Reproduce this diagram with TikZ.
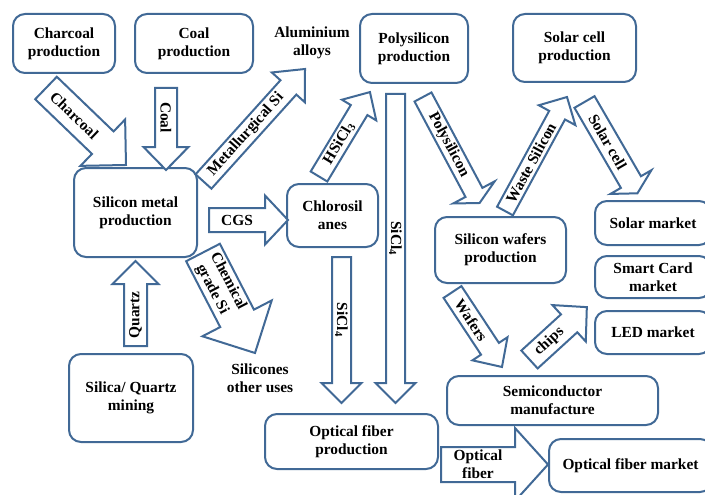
\documentclass[tikz,border=0pt]{standalone}
\usepackage{fontspec}
\setmainfont{Liberation Serif}
\usetikzlibrary{calc}
\definecolor{edgeblue}{RGB}{65,105,150}
\newcommand\labelfont{\fontsize{15.4}{18}\selectfont\bfseries}
\tikzset{
  box/.style={draw=edgeblue, line width=2pt, rounded corners=12pt, fill=white,
    align=center, inner sep=0pt, font=\labelfont},
  arrowline/.style={draw=edgeblue, line width=2pt, fill=white, line join=miter},
  arrowtext/.style={font=\labelfont, inner sep=0pt, align=center},
  plain/.style={font=\labelfont, align=center, inner sep=0pt},
}
% Block arrow from tail coordinate #1 to tip coordinate #2:
% #3 shaft half width, #4 head half width, #5 head length, #6 label
\newcommand\blockarrow[6]{%
  \pgfpointdiff{\pgfpointanchor{#1}{center}}{\pgfpointanchor{#2}{center}}%
  \pgfgetlastxy{\bax}{\bay}%
  \pgfmathsetmacro\baang{atan2(\bay,\bax)}%
  \pgfmathsetmacro\balen{veclen(\bax,\bay)}%
  \begin{scope}[shift={(#1)}, rotate=\baang, x=1pt, y=1pt]
    \draw[arrowline] (0,#3) -- ({\balen-#5},#3) -- ({\balen-#5},#4) -- (\balen,0)
      -- ({\balen-#5},-#4) -- ({\balen-#5},-#3) -- (0,-#3) -- cycle;
    \node[arrowtext, rotate=\baang] (#1-label) at ({(\balen-#5)/2},0) {#6};
  \end{scope}}

\begin{document}
\begin{tikzpicture}[x=1pt, y=-1pt]
\fill[white] (0,0) rectangle (705,495);
\useasboundingbox (0,0) rectangle (705,495);

% process boxes
\node[box, minimum width=102pt, minimum height=59pt] (charcoal) at (64,43.5) {Charcoal\\production};
\node[box, minimum width=118pt, minimum height=59pt] (coal) at (194,43.5) {Coal\\production};
\node[box, minimum width=108pt, minimum height=69pt] (poly) at (414,48.5) {Polysilicon\\production};
\node[box, minimum width=123pt, minimum height=68pt] (solarcell) at (574.5,48) {Solar cell\\production};
\node[box, minimum width=123pt, minimum height=89pt] (simetal) at (135.5,212.5) {Silicon metal\\production};
\node[box, minimum width=124pt, minimum height=88pt] (silica) at (131,398) {Silica/ Quartz\\mining};
\node[box, minimum width=91pt, minimum height=63pt] (chloro) at (332.5,215.5) {Chlorosil\\anes};
\node[box, minimum width=173pt, minimum height=55pt] (ofprod) at (351.5,441.5) {Optical fiber\\production};
\node[box, minimum width=131pt, minimum height=66pt] (wafers) at (500.5,250) {Silicon wafers\\production};
\node[box, minimum width=116pt, minimum height=44pt] (solarmkt) at (653,223) {Solar market};
\node[box, minimum width=116pt, minimum height=42pt] (smartmkt) at (653,277) {Smart Card\\market};
\node[box, minimum width=116pt, minimum height=43pt] (ledmkt) at (653,332.5) {LED market};
\node[box, minimum width=211pt, minimum height=49pt] (semi) at (552.5,400.5) {Semiconductor\\manufacture};
\node[box, minimum width=163pt, minimum height=53pt] (ofmkt) at (630.5,465.5) {Optical fiber market};

% free-standing outputs
\node[plain] (alu) at (312,43) {Aluminium\\alloys};
\node[plain] (silicones) at (260,378) {Silicones\\other uses};

% arrow end points
\coordinate (aChar) at (46,88);      \coordinate (aCharTip) at (126,165);
\coordinate (aCoal) at (166,88);     \coordinate (aCoalTip) at (166,170);
\coordinate (aMet) at (203.5,181.5); \coordinate (aMetTip) at (305,69);
\coordinate (aHsi) at (319,176.5);   \coordinate (aHsiTip) at (370,92);
\coordinate (aTet) at (395.5,94);    \coordinate (aTetTip) at (395.5,403);
\coordinate (aPoly) at (423,97);     \coordinate (aPolyTip) at (479.6,203);
\coordinate (aWaste) at (505,211);   \coordinate (aWasteTip) at (567,97);
\coordinate (aCell) at (584.5,102);  \coordinate (aCellTip) at (637.5,193.4);
\coordinate (aCgs) at (209,220);     \coordinate (aCgsTip) at (288,220);
\coordinate (aQtz) at (135.5,346);   \coordinate (aQtzTip) at (135.5,261);
\coordinate (aChem) at (203,252.5);  \coordinate (aChemTip) at (255,353);
\coordinate (aTetB) at (341.5,257);  \coordinate (aTetBTip) at (341.5,403);
\coordinate (aWaf) at (452.5,292);   \coordinate (aWafTip) at (502,367);
\coordinate (aChip) at (529.5,359.5);\coordinate (aChipTip) at (587,307);
\coordinate (aFib) at (441,464.5);   \coordinate (aFibTip) at (548,464.5);

% material flows
\blockarrow{aChar}{aCharTip}{15.6}{32.2}{32.2}{Charcoal}
\blockarrow{aCoal}{aCoalTip}{11}{22.5}{23}{Coal}
\blockarrow{aMet}{aMetTip}{10.7}{22.3}{24.8}{Metallurgical Si}
\blockarrow{aHsi}{aHsiTip}{9.7}{20}{21}{HSiCl\textsubscript{3}}
\blockarrow{aTet}{aTetTip}{9.5}{20}{20}{SiCl\textsubscript{4}}
\blockarrow{aPoly}{aPolyTip}{9.6}{23.5}{12}{Polysilicon}
\blockarrow{aWaste}{aWasteTip}{9}{20.8}{20.7}{Waste Silicon}
\blockarrow{aCell}{aCellTip}{11.6}{23.7}{13}{Solar cell}
\blockarrow{aCgs}{aCgsTip}{12}{24.5}{23}{CGS}
\blockarrow{aQtz}{aQtzTip}{11.5}{23}{23}{Quartz}
\blockarrow{aChem}{aChemTip}{19}{39}{39}{Chemical\\grade Si}
\blockarrow{aTetB}{aTetBTip}{9.5}{20}{20}{SiCl\textsubscript{4}}
\blockarrow{aWaf}{aWafTip}{10.7}{21}{21.8}{Wafers}
\blockarrow{aChip}{aChipTip}{12.1}{24.7}{24}{chips}
\blockarrow{aFib}{aFibTip}{17.5}{36.5}{33}{Optical\\fiber}
\end{tikzpicture}
\end{document}
